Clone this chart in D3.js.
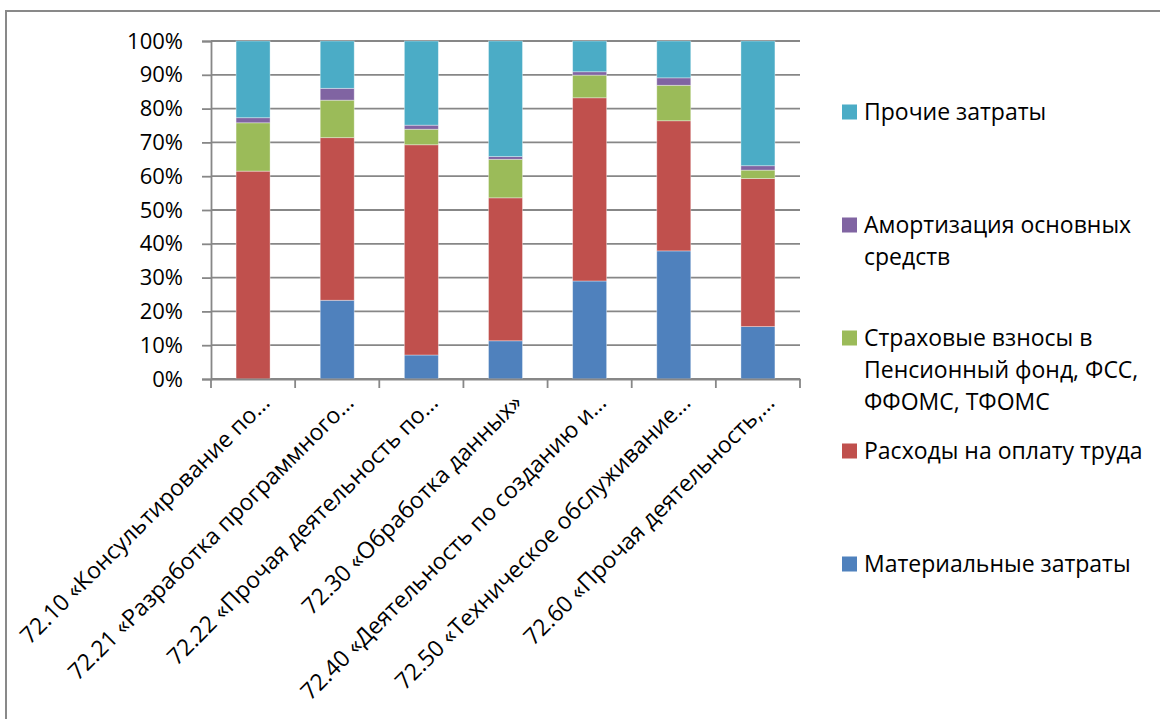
<!DOCTYPE html>
<html><head><meta charset="utf-8">
<script src="https://cdn.jsdelivr.net/npm/d3@7"></script>
<style>
html,body{margin:0;padding:0;background:#fff;overflow:hidden;}
text{font-family:"Open Sans",sans-serif;fill:#000;}
</style></head>
<body>
<svg id="chart" width="1160" height="719"></svg>
<script>
const categories = [
  "72.10 «Консультирование по…",
  "72.21 «Разработка программного…",
  "72.22 «Прочая деятельность по…",
  "72.30 «Обработка данных»",
  "72.40 «Деятельность по созданию и…",
  "72.50 «Техническое обслуживание…",
  "72.60 «Прочая деятельность,…"
];
const seriesNames = [
  "Материальные затраты",
  "Расходы на оплату труда",
  "Страховые взносы в Пенсионный фонд, ФСС, ФФОМС, ТФОМС",
  "Амортизация основных средств",
  "Прочие затраты"
];
const legendLines = [
  ["Материальные затраты"],
  ["Расходы на оплату труда"],
  ["Страховые взносы в", "Пенсионный фонд, ФСС,", "ФФОМС, ТФОМС"],
  ["Амортизация основных", "средств"],
  ["Прочие затраты"]
];
const materialCosts = [0, 23.3, 7.1, 11.3, 29.0, 37.9, 15.5];
const laborCosts    = [61.5, 48.1, 62.2, 42.3, 54.2, 38.5, 43.8];
const insurance     = [14.3, 11.1, 4.6, 11.4, 6.7, 10.5, 2.5];
const depreciation  = [1.5, 3.5, 1.2, 0.8, 1.0, 2.2, 1.3];
const otherCosts    = [22.7, 14.0, 24.9, 34.2, 9.1, 10.9, 36.9];
const yTickValues = [0, 0.1, 0.2, 0.3, 0.4, 0.5, 0.6, 0.7, 0.8, 0.9, 1.0];
const colors = ["#4F81BD", "#C0504D", "#9BBB59", "#8064A2", "#4BACC6"];

const seriesValues = [materialCosts, laborCosts, insurance, depreciation, otherCosts];
const rows = categories.map((c, i) => {
  const r = {cat: c};
  seriesNames.forEach((s, j) => r[s] = seriesValues[j][i]);
  return r;
});

const svg = d3.select("#chart");
// outer chart border
svg.append("rect").attr("x", 6).attr("y", 11).attr("width", 1200).attr("height", 800)
  .attr("fill", "none").attr("stroke", "#898989").attr("stroke-width", 2);

const plot = {left: 211, right: 800, top: 41, bottom: 379};
const x = d3.scaleBand().domain(categories).range([plot.left, plot.right])
  .paddingInner(0.596).paddingOuter(0.298);
const y = d3.scaleLinear().domain([0, 1]).range([plot.bottom, plot.top]);

// gridlines
svg.append("g").selectAll("line").data(yTickValues).join("line")
  .attr("x1", plot.left).attr("x2", plot.right)
  .attr("y1", d => y(d)).attr("y2", d => y(d))
  .attr("stroke", "#878787").attr("stroke-width", 1.8);

// stacked bars
const stack = d3.stack().keys(seriesNames).offset(d3.stackOffsetExpand);
const stacked = stack(rows);
svg.append("g").selectAll("g").data(stacked).join("g")
  .attr("fill", (d, i) => colors[i])
  .selectAll("rect").data(d => d).join("rect")
  .attr("x", d => x(d.data.cat))
  .attr("width", x.bandwidth())
  .attr("y", d => y(d[1]))
  .attr("height", d => Math.max(0, y(d[0]) - y(d[1])))
  .attr("stroke", "#ffffff").attr("stroke-opacity", 0.45).attr("stroke-width", 0.8);

// y axis
const yAxis = d3.axisLeft(y).tickValues(yTickValues).tickFormat(d3.format(".0%"))
  .tickSize(9).tickPadding(19);
const gy = svg.append("g").attr("transform", `translate(${plot.left},0)`).call(yAxis);
gy.select(".domain").attr("stroke", "#878787").attr("stroke-width", 1.8);
gy.selectAll(".tick line").attr("stroke", "#878787").attr("stroke-width", 1.8);
gy.selectAll(".tick text").attr("font-size", 22).attr("font-family", "Open Sans").attr("fill", "#000");

// x axis
const xAxis = d3.axisBottom(x).tickSize(0).tickFormat("");
const gx = svg.append("g").attr("transform", `translate(0,${plot.bottom})`).call(xAxis);
gx.select(".domain").attr("stroke", "#878787").attr("stroke-width", 1.8);
const boundaries = categories.map(c => x(c) - x.step() * x.paddingInner() / 2)
  .concat([x(categories[categories.length - 1]) + x.bandwidth() + x.step() * x.paddingInner() / 2]);
gx.selectAll(".bnd").data(boundaries).join("line").attr("class", "bnd")
  .attr("x1", d => d).attr("x2", d => d).attr("y1", 0).attr("y2", 9)
  .attr("stroke", "#878787").attr("stroke-width", 1.8);
svg.append("g").selectAll("text").data(categories).join("text")
  .attr("transform", d => `translate(${x(d) + x.bandwidth() / 2 + 18},${plot.bottom + 25}) rotate(-45)`)
  .attr("text-anchor", "end")
  .attr("font-size", 23)
  .text(d => d);

// legend
const legendOrder = d3.range(seriesNames.length).reverse();
const ly = d3.scalePoint().domain(legendOrder).range([112, 564]);
const lg = svg.append("g").selectAll("g").data(legendOrder).join("g")
  .attr("transform", i => `translate(842,${ly(i)})`);
lg.append("rect").attr("x", 0).attr("y", -7.5).attr("width", 15).attr("height", 15)
  .attr("fill", i => colors[i]);
lg.append("text").attr("font-size", 23).attr("x", 22)
  .selectAll("tspan").data(i => legendLines[i]).join("tspan")
  .attr("x", 22).attr("dy", (d, k) => k === 0 ? "0.35em" : 32)
  .text(d => d);
</script>
</body></html>
